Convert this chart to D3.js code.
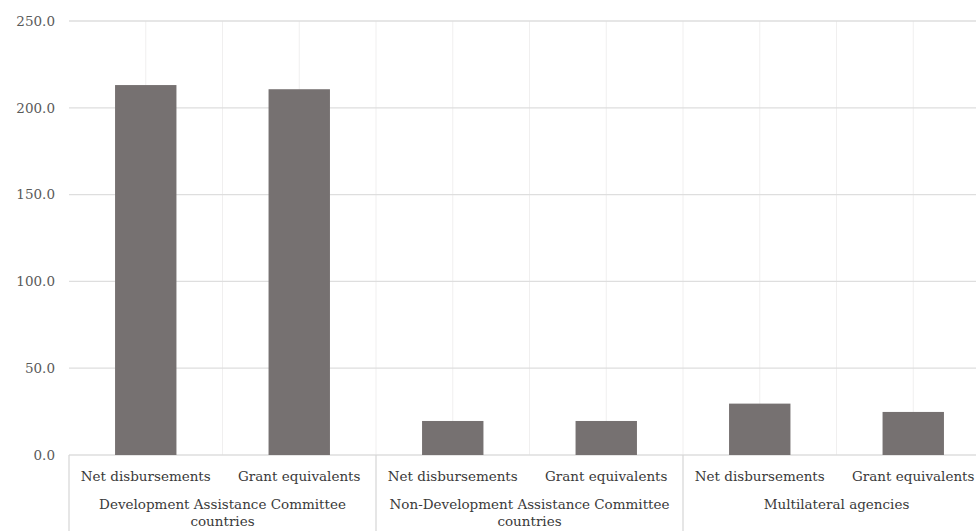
<!DOCTYPE html>
<html>
<head>
<meta charset="utf-8">
<script src="https://cdn.jsdelivr.net/npm/d3@7"></script>
<style>
  html, body { margin: 0; padding: 0; background: #fff; }
  svg { display: block; }
</style>
</head>
<body>
<svg id="chart" width="976" height="531"></svg>
<script>
// ODA flows, USD billion, by donor group and measure
const groups = [
  ["Development Assistance Committee", "countries"],
  ["Non-Development Assistance Committee", "countries"],
  ["Multilateral agencies"]
];
const measures = ["Net disbursements", "Grant equivalents"];
const dacValues = [213.1, 210.7];
const nonDacValues = [19.6, 19.6];
const multilateralValues = [29.6, 24.8];
const yTicks = [0, 50, 100, 150, 200, 250];

const FONT = "'DejaVu Serif', serif";
const FONT_SIZE = 13.5;

const seriesByGroup = [dacValues, nonDacValues, multilateralValues];
const rows = [];
groups.forEach((g, gi) => {
  measures.forEach((m, mi) => {
    rows.push({ key: gi + "-" + mi, group: gi, measure: m, value: seriesByGroup[gi][mi] });
  });
});

const svg = d3.select("#chart");
const plotLeft = 69, plotRight = 990, plotTop = 21, plotBottom = 455;

const x = d3.scaleBand().domain(rows.map(d => d.key)).range([plotLeft, plotRight]).padding(0);
const y = d3.scaleLinear().domain([0, 250]).range([plotBottom, plotTop]);
const bw = x.bandwidth();
const barW = bw * 0.4;

// vertical light gridlines at category centres and boundaries
const vLines = [];
rows.forEach(d => { vLines.push(x(d.key) + bw / 2); vLines.push(x(d.key) + bw); });
svg.append("g").selectAll("line").data(vLines).join("line")
  .attr("x1", d => d).attr("x2", d => d)
  .attr("y1", plotTop).attr("y2", plotBottom)
  .attr("stroke", "#f0efef").attr("stroke-width", 1);

// horizontal gridlines
svg.append("g").selectAll("line").data(yTicks).join("line")
  .attr("x1", plotLeft).attr("x2", plotRight)
  .attr("y1", d => y(d)).attr("y2", d => y(d))
  .attr("stroke", "#dedede").attr("stroke-width", 1.3);

// y-axis labels
const yAxis = d3.axisLeft(y).tickValues(yTicks).tickFormat(d3.format(".1f")).tickSize(0).tickPadding(14);
const ya = svg.append("g").attr("transform", `translate(${plotLeft},0)`).call(yAxis);
ya.attr("font-family", FONT).attr("font-size", FONT_SIZE);
ya.select(".domain").remove();
ya.selectAll("text").attr("fill", "#5a5a5a");

// bars
svg.append("g").selectAll("rect").data(rows).join("rect")
  .attr("x", d => x(d.key) + (bw - barW) / 2)
  .attr("width", barW)
  .attr("y", d => y(d.value))
  .attr("height", d => y(0) - y(d.value))
  .attr("fill", "#767171");

// measure labels
svg.append("g").selectAll("text").data(rows).join("text")
  .attr("x", d => x(d.key) + bw / 2)
  .attr("y", 481)
  .attr("text-anchor", "middle")
  .attr("font-family", FONT)
  .attr("font-size", FONT_SIZE)
  .attr("fill", "#3a3a3a")
  .text(d => d.measure);

// group separators below the axis
const groupEdges = [0, 2, 4, 6].map(i => plotLeft + i * bw);
svg.append("g").selectAll("line").data(groupEdges).join("line")
  .attr("x1", d => d).attr("x2", d => d)
  .attr("y1", plotBottom).attr("y2", 531)
  .attr("stroke", "#d6d6d6").attr("stroke-width", 1.2);

// group labels
groups.forEach((g, gi) => {
  const cx = plotLeft + (gi * 2 + 1) * bw;
  const t = svg.append("text")
    .attr("x", cx).attr("y", 509)
    .attr("text-anchor", "middle")
    .attr("font-family", FONT)
    .attr("font-size", FONT_SIZE)
    .attr("fill", "#3a3a3a");
  g.forEach((line, li) => {
    t.append("tspan").attr("x", cx).attr("dy", li === 0 ? 0 : 17).text(line);
  });
});
</script>
</body>
</html>
